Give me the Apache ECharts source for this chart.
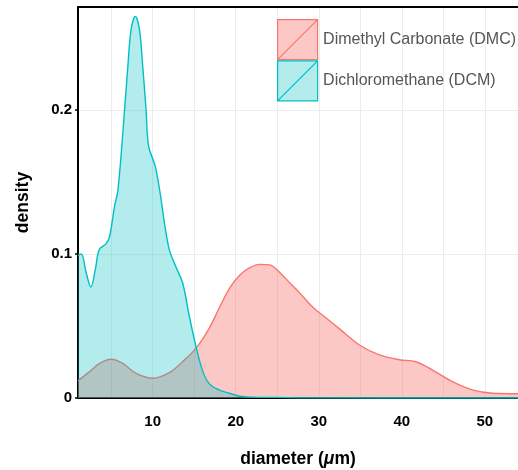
<!DOCTYPE html>
<html>
<head>
<meta charset="utf-8">
<script src="https://cdn.jsdelivr.net/npm/echarts@6/dist/echarts.min.js"></script>
<style>
html,body{margin:0;padding:0;background:#fff;}
#chart{width:518px;height:470px;}
</style>
</head>
<body>
<div id="chart"></div>
<script>
// Series names
const seriesNames = ['Dimethyl Carbonate (DMC)', 'Dichloromethane (DCM)'];

// Dimethyl Carbonate (DMC): diameter (µm) and density
const dmcX = [1.0, 2.4, 3.6, 5.0, 6.4, 8.0, 10.0, 12.0, 13.6, 15.2, 16.8, 18.0, 19.25, 20.5, 21.7, 22.9, 24.1, 25.3, 26.5, 27.7, 29.3, 30.9, 32.5, 34.9, 37.3, 39.7, 41.7, 43.7, 46.1, 48.5, 50.9, 54.0];
const dmcY = [0.012, 0.0183, 0.024, 0.0269, 0.024, 0.0171, 0.0137, 0.0176, 0.0252, 0.0345, 0.0484, 0.0623, 0.0762, 0.0854, 0.0905, 0.0928, 0.0924, 0.0872, 0.0800, 0.0730, 0.0630, 0.0555, 0.048, 0.0368, 0.0299, 0.0266, 0.0252, 0.0194, 0.0113, 0.0056, 0.0033, 0.0030];

// Dichloromethane (DCM): diameter (µm) and density
const dcmX = [1.0, 1.4, 2.0, 2.55, 3.1, 3.55, 4.36, 4.8, 5.4, 5.8, 6.4, 7.0, 7.4, 7.9, 8.4, 8.8, 9.2, 9.5, 10.3, 10.9, 11.4, 12.0, 12.8, 13.6, 14.4, 15.2, 16.0, 16.8, 18.0, 19.25, 20.5, 22.0, 25.0, 28.0, 54.0];
const dcmY = [0.099, 0.100, 0.0866, 0.077, 0.0896, 0.103, 0.107, 0.112, 0.133, 0.144, 0.184, 0.230, 0.256, 0.265, 0.256, 0.230, 0.200, 0.175, 0.161, 0.142, 0.122, 0.103, 0.091, 0.080, 0.057, 0.036, 0.019, 0.010, 0.0056, 0.0033, 0.0012, 0.0006, 0.0004, 0.0001, 0.0];

// Axis tick labels
const xTickLabels = [10, 20, 30, 40, 50];
const yTickLabels = [0, 0.1, 0.2];

const colors = ['#F8766D', '#00BFC4'];
const fills = ['rgba(248,118,109,0.4)', 'rgba(0,191,196,0.3)'];

function pairs(xs, ys){ return xs.map((x, i) => [x, ys[i]]); }
const seriesData = [pairs(dmcX, dmcY), pairs(dcmX, dcmY)];

const FONT = 'Liberation Sans, Arial, sans-serif';
const chart = echarts.init(document.getElementById('chart'), null, {renderer: 'canvas'});
const gridColor = '#ececec';
const option = {
  animation: false,
  backgroundColor: '#fff',
  grid: { left: 78, right: 0, top: 7, bottom: 72, containLabel: false, outerBoundsMode: 'none' },
  legend: {
    orient: 'vertical',
    left: 277, top: 19, padding: 0,
    itemWidth: 41, itemHeight: 40, itemGap: 0,
    textStyle: { fontFamily: FONT, fontSize: 16, color: '#555', padding: [3, 0, 0, 0] },
    data: seriesNames.map((n, i) => ({
      name: n,
      icon: 'path://M0,0H40V40H0Z M0,40L40,0',
      itemStyle: { color: fills[i], borderColor: colors[i], borderWidth: 1.2 }
    }))
  },
  xAxis: [{
    type: 'value', min: 1, max: 54, splitNumber: 10, minInterval: 5, maxInterval: 5,
    name: 'diameter ({i|μ}m)', nameLocation: 'middle', nameGap: 52,
    nameTextStyle: {
      fontFamily: FONT, fontSize: 17.5, fontWeight: 'bold', color: '#000',
      rich: { i: { fontFamily: FONT, fontSize: 17.5, fontWeight: 'bold', fontStyle: 'italic', color: '#000' } }
    },
    axisLine: { show: true, onZero: false, lineStyle: { color: '#000', width: 2 } },
    axisTick: { show: false },
    axisLabel: {
      margin: 16, showMinLabel: false, showMaxLabel: false,
      fontFamily: FONT, fontSize: 15, fontWeight: 'bold', color: '#000',
      formatter: v => (xTickLabels.indexOf(Math.round(v)) >= 0 && Math.abs(v - Math.round(v)) < 1e-6) ? String(Math.round(v)) : ''
    },
    splitLine: { show: true, lineStyle: { color: gridColor, width: 1 } }
  }, {
    type: 'value', min: 1, max: 54, position: 'top',
    axisLine: { show: true, onZero: false, lineStyle: { color: '#000', width: 2 } },
    axisTick: { show: false }, axisLabel: { show: false }, splitLine: { show: false }
  }],
  yAxis: {
    type: 'value', min: 0, max: 0.2715, interval: 0.05,
    name: 'density', nameLocation: 'middle', nameGap: 46, nameRotate: 90,
    nameTextStyle: { fontFamily: FONT, fontSize: 17.5, fontWeight: 'bold', color: '#000' },
    axisLine: { show: true, onZero: false, lineStyle: { color: '#000', width: 2 } },
    axisTick: { show: true, length: 3, lineStyle: { color: '#000', width: 1.5 }, customValues: yTickLabels },
    axisLabel: {
      margin: 6, showMaxLabel: false,
      fontFamily: FONT, fontSize: 15, fontWeight: 'bold', color: '#000',
      formatter: v => {
        for (const t of yTickLabels) { if (Math.abs(v - t) < 1e-6) return String(t); }
        return '';
      }
    },
    splitLine: { show: true, lineStyle: { color: gridColor, width: 1 } }
  },
  series: seriesNames.map((n, i) => ({
    name: n, type: 'line', xAxisIndex: 0, data: seriesData[i],
    smooth: 0.35, symbol: 'none',
    lineStyle: { color: colors[i], width: 1.4 },
    itemStyle: { color: colors[i] },
    areaStyle: { color: fills[i], opacity: 1, origin: 'start' },
    z: 2 + i
  }))
};
chart.setOption(option);
</script>
</body>
</html>
